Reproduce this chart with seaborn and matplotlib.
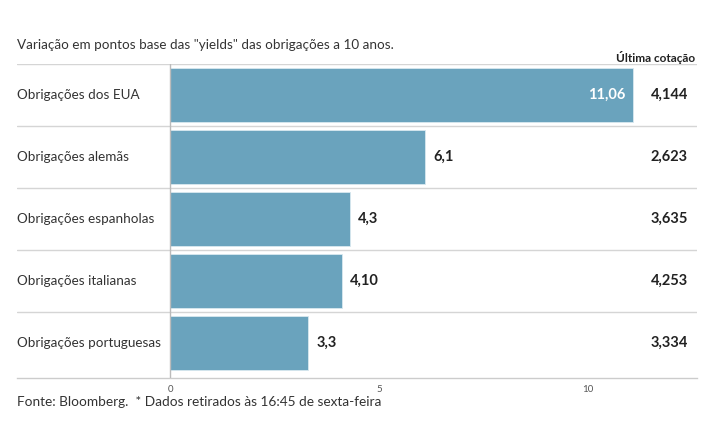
import pandas as pd
import matplotlib
matplotlib.use("Agg")
import matplotlib.pyplot as plt
import seaborn as sns

# data
categories = ["Obrigações dos EUA", "Obrigações alemãs", "Obrigações espanholas",
              "Obrigações italianas", "Obrigações portuguesas"]
variacao = [11.06, 6.1, 4.3, 4.10, 3.3]
variacao_labels = ["11,06", "6,1", "4,3", "4,10", "3,3"]
ultima_cotacao = ["4,144", "2,623", "3,635", "4,253", "3,334"]
x_ticks = [0, 5, 10]

df = pd.DataFrame({"categoria": categories, "variacao": variacao})

sns.set_style("white")
plt.rcParams["font.family"] = ["Lato", "DejaVu Sans"]

bar_color = "#6aa3bd"
text_color = "#333333"

fig = plt.figure(figsize=(7.15, 4.45), dpi=100)
ax = fig.add_axes([17 / 715, 1 - 378 / 445, (697 - 17) / 715, (378 - 64) / 445])

sns.barplot(data=df, x="variacao", y="categoria", orient="h", color=bar_color,
            width=0.87, saturation=1, edgecolor="#d8e8ef", linewidth=0.6, ax=ax)

ax.set_xlim(-3.66, 12.6)
ax.set_ylim(4.56, -0.5)
ax.set_xlabel("")
ax.set_ylabel("")
ax.set_yticks([])
ax.set_xticks(x_ticks)
ax.set_xticklabels([str(t) for t in x_ticks], fontsize=7, color="#555555")
ax.tick_params(axis="x", direction="in", length=7, width=0.8, color="#bbbbbb", pad=5)
for s in ["top", "right", "left"]:
    ax.spines[s].set_visible(False)
ax.spines["bottom"].set_color("#cccccc")
ax.spines["bottom"].set_linewidth(1)

# row separators and zero line
for y in [-0.5, 0.5, 1.5, 2.5, 3.5]:
    ax.axhline(y, color="#d5d5d5", lw=1, zorder=0)
ax.axvline(0, color="#bbbbbb", lw=1, zorder=3)

# labels
for i, (cat, v, lab, q) in enumerate(zip(categories, variacao, variacao_labels, ultima_cotacao)):
    ax.text(-3.66, i, cat, ha="left", va="center", fontsize=9.7, color=text_color)
    if v > 10:
        ax.text(v - 0.17, i, lab, ha="right", va="center", fontsize=10.5,
                color="white", fontweight="bold")
    else:
        ax.text(v + 0.2, i, lab, ha="left", va="center", fontsize=10.5,
                color="#222222", fontweight="bold")
    ax.text(12.38, i, q, ha="right", va="center", fontsize=10.5,
            color="#222222", fontweight="bold")

fig.text(17 / 715, 1 - 45 / 445, 'Variação em pontos base das "yields" das obrigações a 10 anos.',
         ha="left", va="center", fontsize=9.7, color=text_color)
fig.text(695 / 715, 1 - 57 / 445, "Última cotação", ha="right", va="center",
         fontsize=8.5, fontweight="bold", color="#222222")
fig.text(17 / 715, 1 - 402 / 445, "Fonte: Bloomberg.  * Dados retirados às 16:45 de sexta-feira",
         ha="left", va="center", fontsize=9.8, color=text_color)

fig.savefig("out.png", dpi=100)
